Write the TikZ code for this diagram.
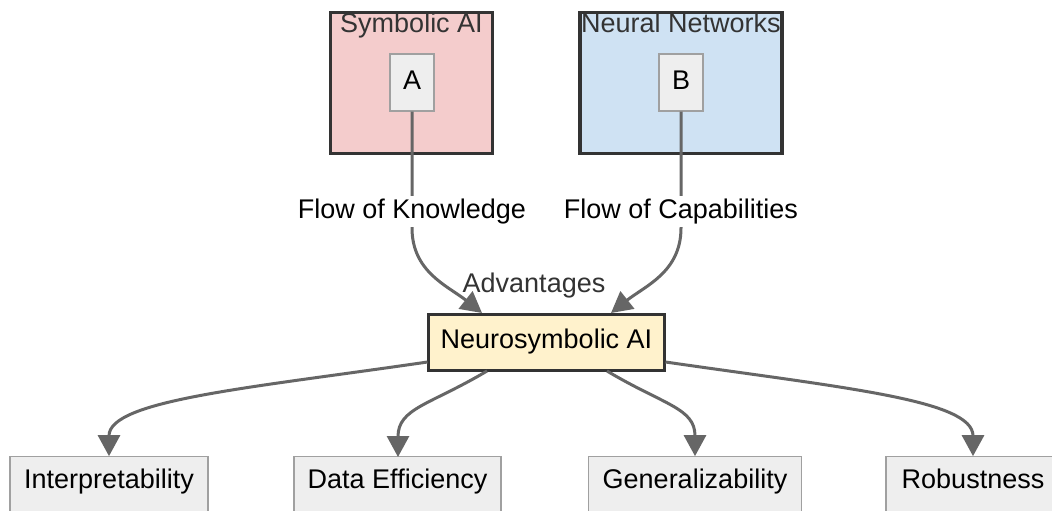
\documentclass[tikz,border=0pt]{standalone}
\usepackage{fontspec}
\setmainfont{Liberation Sans}
\usetikzlibrary{arrows.meta}
\definecolor{edgegray}{HTML}{666666}
\definecolor{darkline}{HTML}{333333}
\definecolor{leafgray}{HTML}{EEEEEE}
\definecolor{leafline}{HTML}{A0A0A0}
\definecolor{pinkfill}{HTML}{F4CCCC}
\definecolor{bluefill}{HTML}{CFE2F3}
\definecolor{creamfill}{HTML}{FFF2CC}
\tikzset{
  every node/.style={font=\fontsize{27}{32}\selectfont, inner sep=0pt, text height=19.5pt, text depth=5.5pt},
  group/.style={draw=darkline, line width=3.4pt, minimum height=141pt},
  grouptitle/.style={text=darkline},
  innerbox/.style={draw=leafline, line width=1.2pt, fill=leafgray, minimum width=44pt, minimum height=57pt},
  centerbox/.style={draw=darkline, line width=3pt, fill=creamfill, minimum width=236pt, minimum height=56pt, text depth=8pt},
  leaf/.style={draw=leafline, line width=1.2pt, fill=leafgray, minimum height=57pt, text depth=14pt},
  flow/.style={draw=edgegray, line width=3pt, -{Triangle[length=21pt 0 0,width=22pt 0 0]}},
  flowlabel/.style={fill=white, inner xsep=2pt, inner ysep=3pt},
}
\begin{document}
\begin{tikzpicture}[x=1pt, y=-1pt]
  \useasboundingbox (0,0) rectangle (1052,511);
  \clip (0,0) rectangle (1052,511);
  \fill[white] (0,0) rectangle (1052,511);

  % source groups
  \node[group, fill=pinkfill, minimum width=162pt] (symb) at (411.5,83) {};
  \node[grouptitle] (symbt) at (411.5,26) {Symbolic AI};
  \node[innerbox] (A) at (412,82.5) {A};

  \node[group, fill=bluefill, minimum width=202pt] (neur) at (681,83) {};
  \node[grouptitle] (neurt) at (681,26) {Neural Networks};
  \node[innerbox] (B) at (681,82.5) {B};

  % central node
  \node[centerbox] (ns) at (546.5,342.5) {Neurosymbolic AI};
  \node[text=darkline] (adv) at (534,285.5) {Advantages};

  % outcome boxes (they run past the lower edge)
  \node[leaf, minimum width=198pt] (interp) at (109,485.25) {Interpretability};
  \node[leaf, minimum width=207pt] (data) at (397.5,485.25) {Data Efficiency};
  \node[leaf, minimum width=213pt] (gen) at (695,485.25) {Generalizability};
  \node[leaf, minimum width=174pt] (rob) at (973,485.25) {Robustness};

  % incoming flows
  \coordinate (kin) at (482,313);
  \coordinate (cin) at (611,313);
  \draw[flow] (A.south) -- (412,228) .. controls (412,272) and (448,286) .. (kin);
  \draw[flow] (B.south) -- (681,228) .. controls (681,272) and (645,286) .. (cin);
  \node[flowlabel] (kl) at (412,211) {Flow of Knowledge};
  \node[flowlabel] (cl) at (681,211) {Flow of Capabilities};

  % outgoing advantages
  \coordinate (o1) at (427.5,362);
  \coordinate (o2) at (487,371);
  \coordinate (o3) at (607,371);
  \coordinate (o4) at (665.5,362);
  \draw[flow] (o1) .. controls (250,388) and (109,400) .. (interp.north);
  \draw[flow] (o2) .. controls (430,405) and (398,408) .. (398,457);
  \draw[flow] (o3) .. controls (664,405) and (695,408) .. (gen.north);
  \draw[flow] (o4) .. controls (845,388) and (973,400) .. (rob.north);
\end{tikzpicture}
\end{document}
